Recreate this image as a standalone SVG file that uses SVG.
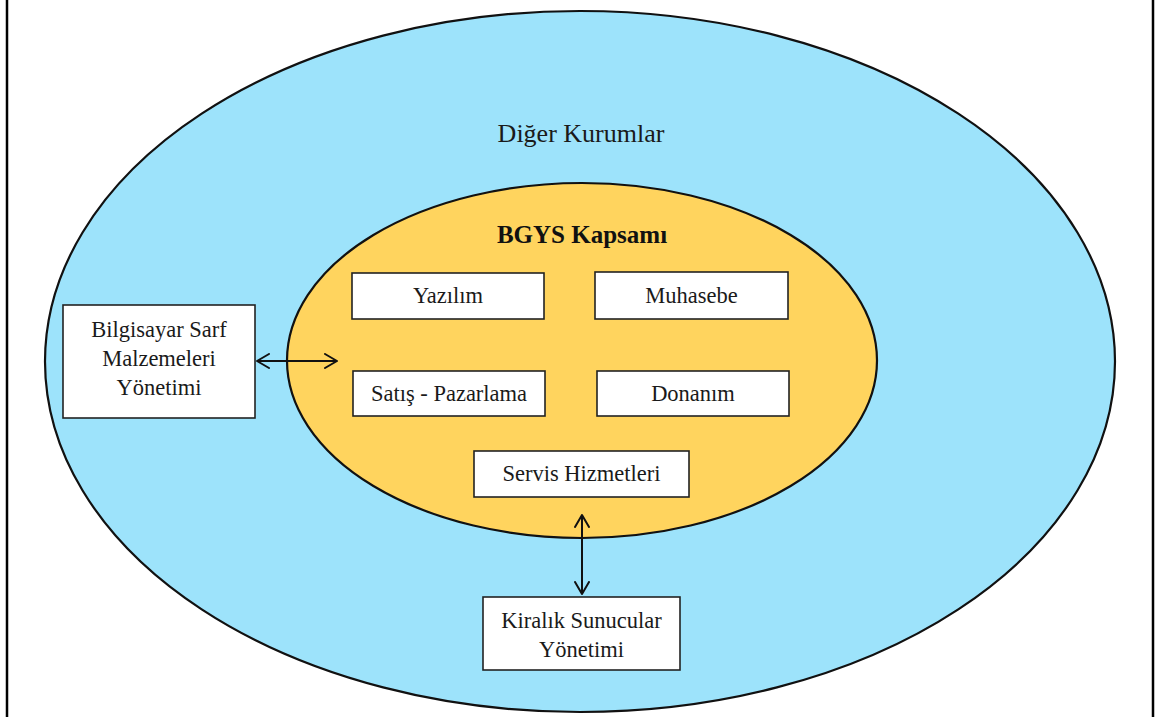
<svg xmlns="http://www.w3.org/2000/svg" width="1160" height="717" viewBox="0 0 1160 717">
  <defs>
    <marker id="open-arrow" viewBox="0 0 14 16" refX="13" refY="8" markerWidth="14" markerHeight="16" markerUnits="userSpaceOnUse" orient="auto-start-reverse">
      <path d="M1,1 L13,8 L1,15" fill="none" stroke="#111" stroke-width="2" stroke-linecap="round" stroke-linejoin="round"/>
    </marker>
  </defs>
  <style>
    .frame { stroke: #000; stroke-width: 2.5; }
    .outer { fill: #9de3fb; stroke: #111; stroke-width: 2.2; }
    .inner { fill: #ffd45e; stroke: #111; stroke-width: 2.2; }
    .box { fill: #fff; stroke: #222; stroke-width: 1.6; }
    .lbl { font-family: "Liberation Serif", "Times New Roman", serif; font-size: 22.5px; fill: #1a1a1a; text-anchor: middle; }
    .title { font-family: "Liberation Serif", "Times New Roman", serif; font-size: 25px; font-weight: bold; fill: #111; text-anchor: middle; }
    .outer-lbl { font-family: "Liberation Serif", "Times New Roman", serif; font-size: 26px; fill: #1a1a1a; text-anchor: middle; }
    .link { fill: none; stroke: #111; stroke-width: 2; }
  </style>

  <rect x="0" y="0" width="1160" height="717" fill="#fff"/>
  <line class="frame" x1="7" y1="0" x2="7" y2="717"/>
  <line class="frame" x1="1153" y1="0" x2="1153" y2="717"/>

  <g id="diger-kurumlar">
    <ellipse class="outer" cx="580" cy="361.5" rx="535" ry="350.5"/>
    <text class="outer-lbl" x="581" y="142">Diğer Kurumlar</text>
  </g>

  <g id="bgys-kapsami">
    <ellipse class="inner" cx="582" cy="360.5" rx="295" ry="177.5"/>
    <text class="title" x="582" y="243">BGYS Kapsamı</text>
  </g>

  <g id="yazilim">
    <rect class="box" x="352" y="273" width="192" height="46"/>
    <text class="lbl" x="448" y="303">Yazılım</text>
  </g>

  <g id="muhasebe">
    <rect class="box" x="595" y="272" width="193" height="47"/>
    <text class="lbl" x="691.5" y="303">Muhasebe</text>
  </g>

  <g id="satis-pazarlama">
    <rect class="box" x="353" y="371" width="192" height="45"/>
    <text class="lbl" x="449" y="401">Satış - Pazarlama</text>
  </g>

  <g id="donanim">
    <rect class="box" x="597" y="371" width="192" height="45"/>
    <text class="lbl" x="693" y="401">Donanım</text>
  </g>

  <g id="servis-hizmetleri">
    <rect class="box" x="474" y="451" width="215" height="46"/>
    <text class="lbl" x="581.5" y="481">Servis Hizmetleri</text>
  </g>

  <g id="bilgisayar-sarf">
    <rect class="box" x="63" y="305" width="192" height="113"/>
    <text class="lbl" x="159" y="337">Bilgisayar Sarf</text>
    <text class="lbl" x="159" y="366">Malzemeleri</text>
    <text class="lbl" x="159" y="395">Yönetimi</text>
  </g>

  <g id="kiralik-sunucular">
    <rect class="box" x="483" y="597" width="197" height="73"/>
    <text class="lbl" x="581.5" y="628">Kiralık Sunucular</text>
    <text class="lbl" x="581.5" y="657">Yönetimi</text>
  </g>

  <g id="connectors">
    <line class="link" x1="257" y1="361" x2="337" y2="361" marker-start="url(#open-arrow)" marker-end="url(#open-arrow)"/>
    <line class="link" x1="582" y1="515" x2="582" y2="594" marker-start="url(#open-arrow)" marker-end="url(#open-arrow)"/>
  </g>
</svg>
